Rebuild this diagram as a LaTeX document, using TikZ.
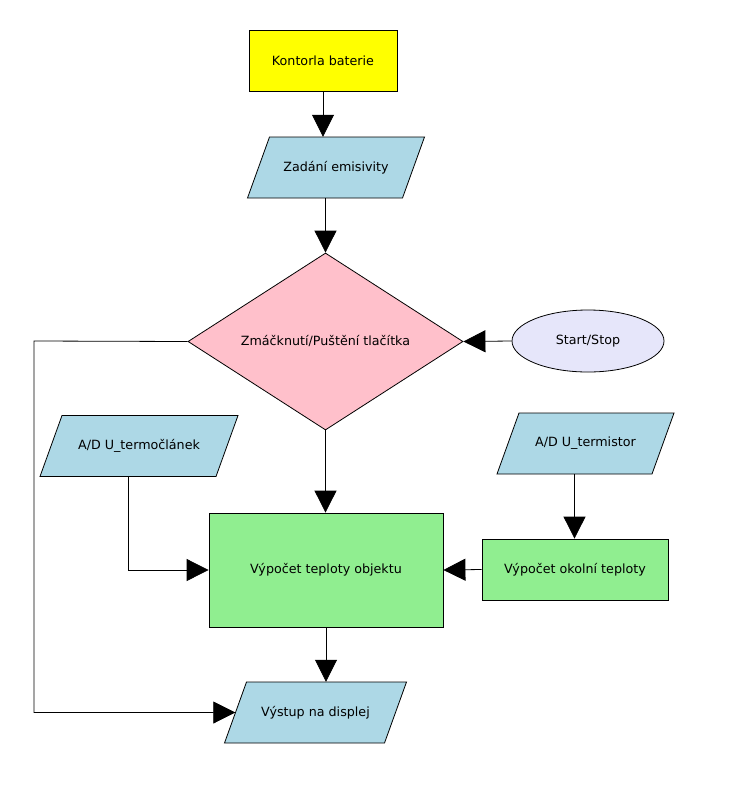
\documentclass[tikz,border=0pt]{standalone}
\usepackage{fontspec}
\setmainfont{DejaVu Sans}
\usetikzlibrary{shapes.geometric,arrows.meta}
\definecolor{cyel}{HTML}{FFFF00}
\definecolor{cblue}{HTML}{ADD8E6}
\definecolor{cpink}{HTML}{FFC0CB}
\definecolor{clav}{HTML}{E6E6FA}
\definecolor{cgreen}{HTML}{90EE90}
\tikzset{
  base/.style={draw=black, line width=0.8pt, font=\fontsize{12.7}{15}\selectfont, text=black, inner sep=0pt},
  procbox/.style={base, rectangle},
  textonly/.style={rectangle, inner sep=0pt, font=\fontsize{12.7}{15}\selectfont, text=black},
  ioshape/.style={fill=cblue, draw=black, line width=0.8pt, line join=miter},
  decbox/.style={base, diamond, fill=cpink, aspect=1.55, minimum width=275pt, minimum height=177pt},
  termbox/.style={base, ellipse, fill=clav, minimum width=152pt, minimum height=62pt},
  conn/.style={draw=black, line width=0.8pt},
  arr/.style={conn, -{Triangle[width=22pt,length=22pt]}},
}
% name, cx, cy, edge width, text
\newcommand\iopara[5]{%
  \path[ioshape] ({#2-#4/2+11},{#3-30.5}) -- ({#2+#4/2+11},{#3-30.5})
     -- ({#2+#4/2-11},{#3+30.5}) -- ({#2-#4/2-11},{#3+30.5}) -- cycle;
  \node[textonly, minimum width=#4pt, minimum height=61pt] (#1) at (#2,#3) {#5};}
\begin{document}
\begin{tikzpicture}[x=1pt,y=-1pt]
\useasboundingbox (0,0) rectangle (730,793);
\node[procbox, fill=cyel, minimum width=148pt, minimum height=61pt] (kon) at (323,60.5) {Kontorla baterie};
\iopara{zad}{336}{167.5}{155}{Zadání emisivity}
\node[decbox] (dia) at (325.5,341.5) {Zmáčknutí/Puštění tlačítka};
\node[termbox] (ss) at (588,341) {Start/Stop};
\iopara{termoc}{139}{446}{176}{A/D U\_termočlánek}
\iopara{termis}{585.5}{443.5}{155}{A/D U\_termistor}
\node[procbox, fill=cgreen, minimum width=234pt, minimum height=114pt] (obj) at (326,570) {Výpočet teploty objektu};
\node[procbox, fill=cgreen, minimum width=186pt, minimum height=61pt] (okol) at (575,569.5) {Výpočet okolní teploty};
\iopara{vys}{315.5}{712.5}{160}{Výstup na displej}
\coordinate (loopx) at (34,341);
\coordinate (termocb) at ([xshift=-11pt]termoc.south);
\coordinate (termisb) at ([xshift=-11pt]termis.south);

\draw[arr] (kon.south) -- (kon.south |- zad.north);
\draw[arr] (dia.north |- zad.south) -- (dia.north);
\draw[arr] (ss.west) -- (dia.east);
\draw[arr] (dia.south) -- (dia.south |- obj.north);
\draw[arr] (termocb) |- (obj.west);
\draw[arr] (termisb) -- (termisb |- okol.north);
\draw[arr] (okol.west) -- (obj.east);
\draw[arr] (obj.south) -- (obj.south |- vys.north);
\draw[arr] (dia.west) -- (loopx) |- (vys.west);
\end{tikzpicture}
\end{document}
